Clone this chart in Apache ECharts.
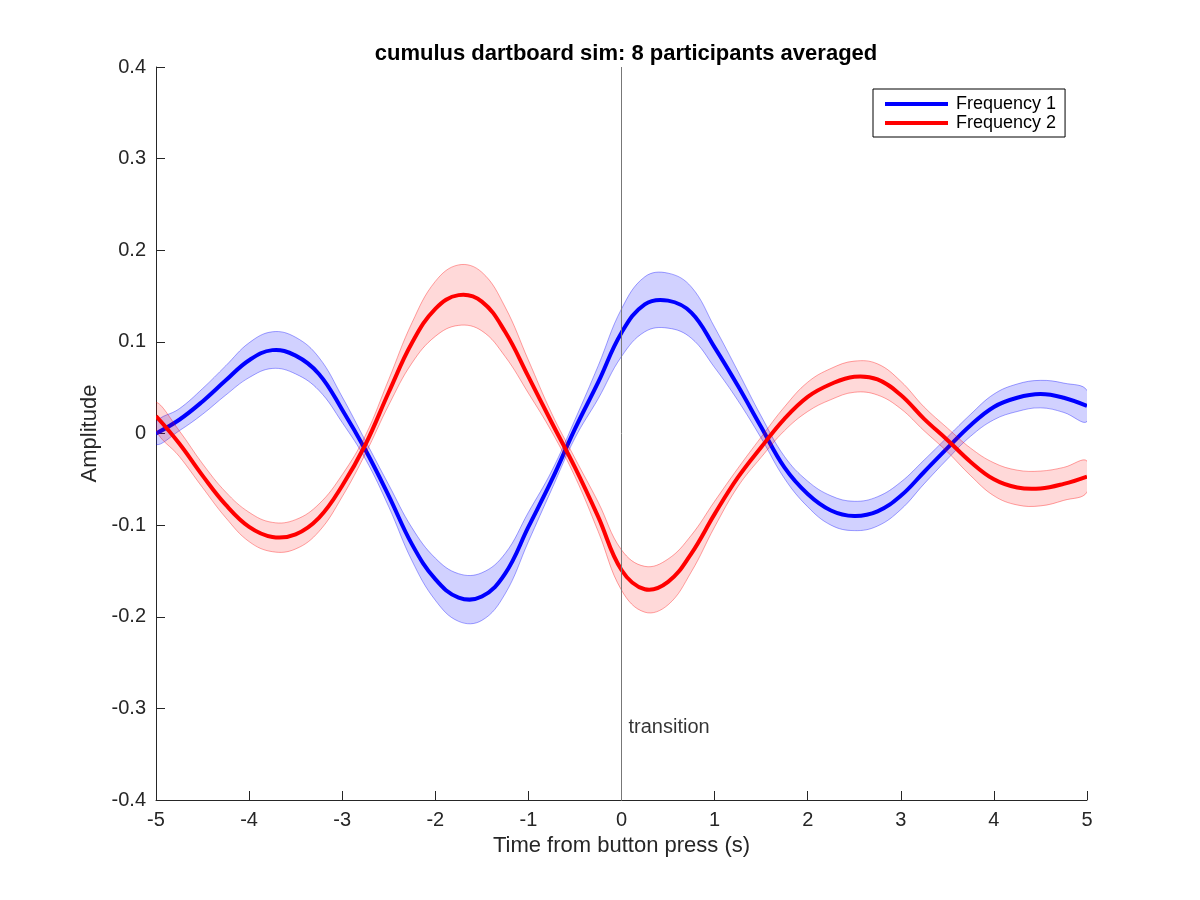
<!DOCTYPE html>
<html lang="en">
<head>
    <meta charset="UTF-8">
    <title>cumulus dartboard sim</title>
    <style>
        html,body{margin:0;padding:0;background:#fff}
        #data{width:1200px;height:900px}
    </style>
</head>
<body>
<div id="data"></div>
</body>
<script src="https://cdn.jsdelivr.net/npm/echarts@6/dist/echarts.min.js"></script>
<script>
/*
 * 数据部分
 */
var timeS=[-5,-4.75,-4.5,-4.25,-4,-3.75,-3.5,-3.25,-3,-2.75,-2.5,-2.25,-2,-1.75,-1.5,-1.25,-1,-0.75,-0.5,-0.25,
	0,0.25,0.5,0.75,1,1.25,1.5,1.75,2,2.25,2.5,2.75,3,3.25,3.5,3.75,4,4.25,4.5,4.75,5];
var freq1Mean=[0.000,0.015,0.035,0.058,0.080,0.091,0.085,0.065,0.026,-0.018,-0.068,-0.121,-0.159,-0.179,-0.178,-0.153,-0.102,-0.051,0.005,0.056,
	0.110,0.141,0.145,0.132,0.094,0.052,0.007,-0.037,-0.066,-0.084,-0.090,-0.085,-0.068,-0.042,-0.016,0.009,0.029,0.039,0.043,0.039,0.030];
var freq1Sem=[0.012,0.012,0.014,0.016,0.019,0.020,0.020,0.018,0.014,0.010,0.012,0.018,0.023,0.026,0.026,0.022,0.016,0.010,0.010,0.018,
	0.026,0.030,0.030,0.028,0.022,0.016,0.012,0.012,0.014,0.016,0.016,0.016,0.015,0.013,0.012,0.012,0.014,0.015,0.015,0.016,0.017];
var freq2Mean=[0.019,-0.011,-0.046,-0.078,-0.102,-0.113,-0.110,-0.092,-0.057,-0.012,0.045,0.099,0.136,0.151,0.144,0.111,0.062,0.012,-0.037,-0.091,
	-0.149,-0.170,-0.162,-0.131,-0.088,-0.048,-0.015,0.016,0.040,0.054,0.062,0.059,0.042,0.016,-0.007,-0.031,-0.050,-0.059,-0.060,-0.055,-0.047];
var freq2Sem=[0.015,0.014,0.013,0.014,0.016,0.016,0.016,0.015,0.012,0.010,0.014,0.022,0.030,0.033,0.032,0.027,0.018,0.010,0.010,0.016,
	0.022,0.025,0.025,0.020,0.014,0.010,0.011,0.013,0.016,0.017,0.017,0.017,0.015,0.013,0.013,0.015,0.018,0.019,0.019,0.018,0.017];
var xTicks=[-5,5,1];
var yTicks=[-0.4,0.4,0.1];
var transitionAt=[0,-0.321];

var fontName="'Liberation Sans', Arial, Helvetica, sans-serif";
var smoothK=0.4;

/*
 * 误差带 (mean +- sem) 用自定义多边形画
 */
function bandSeries(name,mean,sem,fill,edge){
	return {
		type:'custom',
		name:name,
		silent:true,
		clip:true,
		data:[[0,0]],
		renderItem:function(params,api){
			var pts=[];
			for(var i=0;i<timeS.length;i++){
				pts.push(api.coord([timeS[i],mean[i]+sem[i]]));
			}
			for(var j=timeS.length-1;j>=0;j--){
				pts.push(api.coord([timeS[j],mean[j]-sem[j]]));
			}
			return {
				type:'polygon',
				shape:{points:pts,smooth:smoothK},
				style:{fill:fill,stroke:edge,lineWidth:0.8}
			};
		}
	};
}
/*
 * 均值曲线
 */
function lineSeries(name,mean,color){
	return {
		type:'custom',
		name:name,
		silent:true,
		clip:true,
		itemStyle:{color:color},
		data:[[0,0]],
		renderItem:function(params,api){
			var pts=[];
			for(var i=0;i<timeS.length;i++){
				pts.push(api.coord([timeS[i],mean[i]]));
			}
			return {
				type:'polyline',
				shape:{points:pts,smooth:smoothK},
				style:{fill:null,stroke:color,lineWidth:4}
			};
		}
	};
}

var myChart=echarts.init(document.getElementById('data'));
var option={
	animation:false,
	backgroundColor:'#fff',
	title:{
		text:'cumulus dartboard sim: 8 participants averaged',
		left:621,
		top:38,
		textAlign:'center',
		textStyle:{fontFamily:fontName,fontSize:22,fontWeight:'bold',color:'#000'}
	},
	legend:{
		data:['Frequency 1','Frequency 2'],
		orient:'vertical',
		left:873,
		top:89,
		padding:[6,9,5,12],
		itemGap:1,
		itemWidth:63,
		itemHeight:4,
		icon:'rect',
		borderColor:'#000',
		borderWidth:1,
		backgroundColor:'#fff',
		textStyle:{fontFamily:fontName,fontSize:18,color:'#000',padding:[0,0,0,3]}
	},
	grid:{left:156,right:113,top:67,bottom:100},
	xAxis:{
		type:'value',
		min:xTicks[0],
		max:xTicks[1],
		interval:xTicks[2],
		name:'Time from button press (s)',
		nameLocation:'middle',
		nameGap:34,
		nameTextStyle:{fontFamily:fontName,fontSize:22,color:'#262626'},
		axisLine:{onZero:false,lineStyle:{color:'#262626',width:1}},
		axisTick:{inside:true,length:9,lineStyle:{color:'#262626'}},
		axisLabel:{fontFamily:fontName,fontSize:20,color:'#262626',margin:10},
		splitLine:{show:false}
	},
	yAxis:{
		type:'value',
		min:yTicks[0],
		max:yTicks[1],
		interval:yTicks[2],
		name:'Amplitude',
		nameLocation:'middle',
		nameGap:54,
		nameTextStyle:{fontFamily:fontName,fontSize:22,color:'#262626'},
		axisLine:{show:true,onZero:false,lineStyle:{color:'#262626',width:1}},
		axisTick:{show:true,inside:true,length:9,lineStyle:{color:'#262626'}},
		axisLabel:{fontFamily:fontName,fontSize:20,color:'#262626',margin:10,
			formatter:function(v){return String(+v.toFixed(1));}},
		splitLine:{show:false}
	},
	series:[
		bandSeries('band1',freq1Mean,freq1Sem,'rgba(0,0,255,0.18)','rgba(0,0,255,0.45)'),
		lineSeries('Frequency 1',freq1Mean,'#0000ff'),
		bandSeries('band2',freq2Mean,freq2Sem,'rgba(255,0,0,0.15)','rgba(255,0,0,0.45)'),
		lineSeries('Frequency 2',freq2Mean,'#ff0000'),
		{
			type:'line',
			name:'transitionLine',
			data:[[0,yTicks[0]],[0,yTicks[1]]],
			showSymbol:false,
			silent:true,
			lineStyle:{color:'#777',width:1}
		},
		{
			type:'scatter',
			name:'transitionText',
			data:[transitionAt],
			symbolSize:0,
			silent:true,
			label:{show:true,position:'right',distance:7,formatter:'transition',
				fontFamily:fontName,fontSize:20,color:'#000'}
		}
	]
};
myChart.setOption(option);
</script>
</html>
